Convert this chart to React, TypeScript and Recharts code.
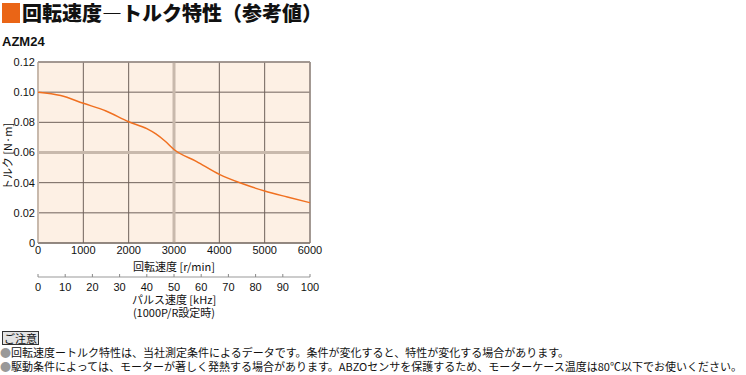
import React from 'react'
import { LineChart, Line, XAxis, YAxis, CartesianGrid, ReferenceLine } from 'recharts'

const RPM = [0, 500, 1000, 1500, 2000, 2400, 2600, 2800, 3000, 3500, 4000, 4500, 5000, 5500, 6000]
const TORQUE = [0.1, 0.0978, 0.0926, 0.0875, 0.0804, 0.0758, 0.0723, 0.0676, 0.062, 0.054, 0.0455, 0.0394, 0.0345, 0.0305, 0.0267]
const RPM_TICKS = [0, 1000, 2000, 3000, 4000, 5000, 6000]
const PULSE_TICKS = [0, 10, 20, 30, 40, 50, 60, 70, 80, 90, 100]
const TORQUE_TICKS = [0, 0.02, 0.04, 0.06, 0.08, 0.1, 0.12]

const TITLE = '回転速度―トルク特性（参考値）'
const MODEL = 'AZM24'
const NOTE_HEAD = 'ご注意'
const NOTES = [
  '回転速度ートルク特性は、当社測定条件によるデータです。条件が変化すると、特性が変化する場合があります。',
  '駆動条件によっては、モーターが著しく発熱する場合があります。ABZOセンサを保護するため、モーターケース温度は80℃以下でお使いください。',
]

// 1000 P/R: kHz = r/min / 60
const data = RPM.map((r, i) => ({ rpm: r, pulse: r / 60, torque: TORQUE[i] }))

const NUM_FONT = '"Liberation Sans Narrow", "Arial Narrow", "Liberation Sans", sans-serif'
const JP_FONT = '"Noto Sans CJK JP", sans-serif'
const GRID = '#6f625b'
const TAN = '#c8b9ac'
const EDGE = '#9d928b'

const fmtTorque = (v: number) => (v === 0 ? '0' : v.toFixed(2))

function PulseTick(props: any) {
  const { x, y, payload } = props
  return (
    <g>
      <line x1={x} x2={x} y1={y - 9} y2={y - 6} stroke="#888" />
      <text x={x} y={y} dy="0.71em" textAnchor="middle" fontSize={11} fontFamily={NUM_FONT} fill="#111">
        {payload.value}
      </text>
    </g>
  )
}

function PulseLabel(props: any) {
  const vb = props.viewBox || {}
  const cx = vb.x + vb.width / 2
  return (
    <g fontSize={11} fontFamily={JP_FONT} fill="#111">
      <text x={cx} y={vb.y + 27} textAnchor="middle">パルス速度 [kHz]</text>
      <text x={cx} y={vb.y + 40} textAnchor="middle">(1000P/R設定時)</text>
    </g>
  )
}

function TorqueLabel(props: any) {
  const vb = props.viewBox || {}
  const x = 12
  const y = vb.y + vb.height / 2 + 4
  return (
    <text x={x} y={y} transform={`rotate(-90 ${x} ${y})`} textAnchor="middle" fontSize={11} fontFamily={JP_FONT} fill="#111">
      トルク [N·m]
    </text>
  )
}

export default function App() {
  return (
    <div style={{ position: 'absolute', left: 0, top: 0, width: 746, height: 375, background: '#fff', fontFamily: JP_FONT, color: '#111' }}>
      <div style={{ position: 'absolute', left: 2, top: 3, width: 18, height: 20, background: '#ea6516' }} />
      <div style={{ position: 'absolute', left: 22, top: 1, fontSize: 20, fontWeight: 900, lineHeight: '24px', whiteSpace: 'nowrap' }}>{TITLE}</div>
      <div style={{ position: 'absolute', left: 2, top: 34, fontSize: 13, fontWeight: 700, fontFamily: '"Liberation Sans", Arial, sans-serif' }}>{MODEL}</div>

      <div style={{ position: 'absolute', left: 0, top: 50 }}>
        <LineChart width={330} height={272} data={data} margin={{ top: 12, right: 20, bottom: 0, left: 0 }}>
          <CartesianGrid xAxisId="a_rpm" stroke={GRID} strokeWidth={1} fill="#fdf0e4" fillOpacity={1}
            horizontalValues={TORQUE_TICKS} verticalValues={RPM_TICKS} />
          <ReferenceLine xAxisId="a_rpm" x={3000} stroke={TAN} strokeWidth={3} />
          <ReferenceLine xAxisId="a_rpm" y={0.06} stroke={TAN} strokeWidth={3} />
          <ReferenceLine xAxisId="a_rpm" x={0} stroke={TAN} strokeWidth={2} />
          <ReferenceLine xAxisId="a_rpm" x={6000} stroke={EDGE} strokeWidth={1.5} />
          <ReferenceLine xAxisId="a_rpm" y={0.12} stroke={EDGE} strokeWidth={1.5} />
          <XAxis xAxisId="a_rpm" dataKey="rpm" type="number" domain={[0, 6000]} ticks={RPM_TICKS}
            height={34} tickLine={false} axisLine={{ stroke: GRID }} tickSize={0} tickMargin={3}
            tick={{ fontSize: 11, fontFamily: NUM_FONT, fill: '#111' }}
            label={{ value: '回転速度 [r/min]', position: 'insideBottom', offset: 6, fontSize: 11, fontFamily: JP_FONT, fill: '#111' }} />
          <XAxis xAxisId="b_pulse" dataKey="pulse" type="number" domain={[0, 100]} ticks={PULSE_TICKS}
            height={45} tickLine={false} axisLine={{ stroke: '#999' }} tickSize={0} tickMargin={6}
            tick={<PulseTick />} label={<PulseLabel />} />
          <YAxis type="number" domain={[0, 0.12]} ticks={TORQUE_TICKS} width={38}
            tickLine={false} axisLine={false} tickSize={0} tickMargin={3} tickFormatter={fmtTorque}
            tick={{ fontSize: 11, fontFamily: NUM_FONT, fill: '#111' }}
            label={<TorqueLabel />} />
          <Line xAxisId="a_rpm" dataKey="torque" type="monotone" stroke="#f07020" strokeWidth={1.5} dot={false} isAnimationActive={false} />
        </LineChart>
      </div>

      <div style={{ position: 'absolute', left: 2, top: 331, height: 12, padding: '0 1px', border: '1px solid #333', background: '#e4e4e4', fontSize: 11, lineHeight: '12px' }}>{NOTE_HEAD}</div>
      {NOTES.map((t, i) => (
        <div key={i} style={{ position: 'absolute', left: 0, top: 345 + i * 14, fontSize: 11, lineHeight: '14px', whiteSpace: 'nowrap' }}>
          <span style={{ color: '#999' }}>●</span>{t}
        </div>
      ))}
    </div>
  )
}
